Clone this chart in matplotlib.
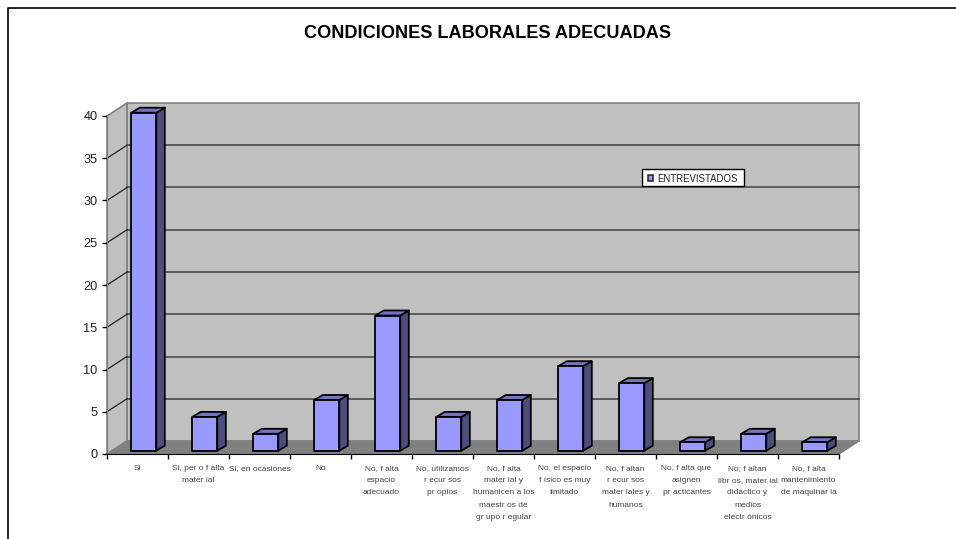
import matplotlib
matplotlib.use('Agg')
import matplotlib.pyplot as plt
from matplotlib.patches import Polygon, Rectangle
from matplotlib.lines import Line2D

plt.rcParams['font.family'] = ['Liberation Sans', 'DejaVu Sans']

titulo = 'CONDICIONES LABORALES ADECUADAS'
serie = 'ENTREVISTADOS'
categorias = [
    'Si',
    'Si, per o f alta\nmater ial',
    'Si, en ocasiones',
    'No',
    'No, f alta\nespacio\nadecuado',
    'No, utilizamos\nr ecur sos\npr opios',
    'No, f alta\nmater ial y\nhumanicen a los\nmaestr os de\ngr upo r egular',
    'No, el espacio\nf ísico es muy\nlimitado',
    'No, f altan\nr ecur sos\nmater iales y\nhumanos',
    'No, f alta que\nasignen\npr acticantes',
    'No; f altan\nlibr os, mater ial\ndidáctico y\nmedios\nelectr ónicos',
    'No, f alta\nmantenimiento\nde maquinar ia',
]
valores = [40, 4, 2, 6, 16, 4, 6, 10, 8, 1, 2, 1]
ticks_y = [0, 5, 10, 15, 20, 25, 30, 35, 40]

W, H = 956, 539
fig = plt.figure(figsize=(W / 100, H / 100), dpi=100, facecolor='white')

# marco exterior: solo arriba e izquierda, en pixeles
fig.add_artist(Line2D([1, 8 / W, 8 / W], [1 - 8 / H, 1 - 8 / H, 0], transform=fig.transFigure,
                      color='black', lw=1.2))

# plano frontal del eje
x0, x1, y0, y1 = 107, 839, 454, 116
ax = fig.add_axes([x0 / W, 1 - y0 / H, (x1 - x0) / W, (y0 - y1) / H])
ax.set_xlim(0, len(categorias))
ax.set_ylim(0, 40)
ax.patch.set_visible(False)
for s in ['top', 'right']:
    ax.spines[s].set_visible(False)
ax.spines['left'].set_color('#808080')
ax.spines['bottom'].set_color('black')
ax.spines['bottom'].set_zorder(6)

# profundidad 3D en unidades de datos
ux = (x1 - x0) / len(categorias)
uy = (y0 - y1) / 40
dx = 20 / ux
dy = 13 / uy
n = len(categorias)

gris_pared = '#c0c0c0'
gris_piso = '#808080'
gris_borde = '#808080'

ax.add_patch(Polygon([(dx, dy), (n + dx, dy), (n + dx, 40 + dy), (dx, 40 + dy)], closed=True,
                     facecolor=gris_pared, edgecolor=gris_borde, lw=1.2, clip_on=False, zorder=1))
ax.add_patch(Polygon([(0, 0), (dx, dy), (dx, 40 + dy), (0, 40)], closed=True,
                     facecolor=gris_pared, edgecolor=gris_borde, lw=1.2, clip_on=False, zorder=1))
ax.add_patch(Polygon([(0, 0), (n, 0), (n + dx, dy), (dx, dy)], closed=True,
                     facecolor=gris_piso, edgecolor=gris_borde, lw=1, clip_on=False, zorder=1))

# rejilla: pared lateral y pared de fondo
for t in ticks_y[1:-1]:
    ax.add_line(Line2D([dx, n + dx], [t + dy, t + dy], color='#404040', lw=1.1, clip_on=False, zorder=2))
    ax.add_line(Line2D([0, dx], [t, t + dy], color='#202020', lw=0.9, clip_on=False, zorder=2))

# barras 3D
ancho = 25 / ux
desp = 6.3 / ux
bx = 8.5 / ux
by = 5 / uy
base = 3.3 / uy
for i, v in enumerate(valores):
    izq = i + 0.5 - ancho / 2 + desp
    der = izq + ancho
    sup = v + base
    estilo = dict(edgecolor='black', lw=1.3, clip_on=False, joinstyle='round', zorder=4)
    ax.add_patch(Polygon([(der, base), (der + bx, base + by), (der + bx, sup + by), (der, sup)],
                         closed=True, facecolor='#4d4d80', **estilo))
    ax.add_patch(Polygon([(izq, sup), (der, sup), (der + bx, sup + by), (izq + bx, sup + by)],
                         closed=True, facecolor='#7373bf', **estilo))
    ax.add_patch(Polygon([(izq, base), (der, base), (der, sup), (izq, sup)],
                         closed=True, facecolor='#9999ff', **estilo))

ax.set_yticks(ticks_y)
ax.tick_params(axis='y', length=3.6, width=1, color='black', labelsize=9.2, labelcolor='#222222', pad=3.2)
ax.set_xticks(range(n + 1))
ax.set_xticklabels([])
ax.tick_params(axis='x', length=3.6, width=1, color='black')

for i, c in enumerate(categorias):
    ax.annotate(c, xy=(i + 0.5, 0), xycoords=('data', 'axes fraction'), xytext=(0, -7.6),
                textcoords='offset points', ha='center', va='top', fontsize=6.0,
                color='#444444', linespacing=2.07, annotation_clip=False)

fig.text(488 / W, 1 - 33 / H, titulo, ha='center', va='center', fontsize=13.1, fontweight='bold', color='black')

# leyenda
lx0, lx1, ly0, ly1 = 641.5, 743.5, 168.5, 185.5
fig.add_artist(Rectangle((lx0 / W, 1 - ly1 / H), (lx1 - lx0) / W, (ly1 - ly0) / H, transform=fig.transFigure,
                         facecolor='white', edgecolor='black', lw=1, zorder=8))
fig.add_artist(Rectangle((647.5 / W, 1 - 180.5 / H), 5.5 / W, 5.5 / H, transform=fig.transFigure,
                         facecolor='#9999ff', edgecolor='#222222', lw=1.1, zorder=9))
fig.text(657.5 / W, 1 - 178.5 / H, serie, ha='left', va='center', fontsize=6.95, color='#222222', zorder=9)

fig.savefig('out.png', dpi=100)
